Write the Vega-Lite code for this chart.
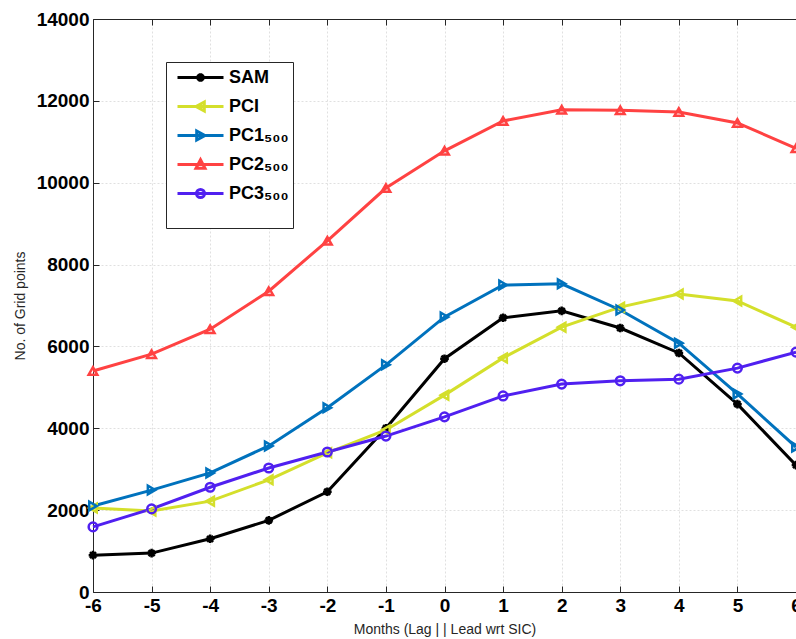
{
  "$schema": "https://vega.github.io/schema/vega-lite/v6.json",
  "width": 703,
  "height": 573,
  "autosize": {"type": "none"},
  "padding": {"left": 93, "top": 19, "right": 0, "bottom": 47},
  "background": "white",
  "config": {"view": {"stroke": null}, "font": "Liberation Sans"},
  "datasets": {
    "rows": [
      {"m": -6, "v": 900, "s": "SAM"}, {"m": -5, "v": 950, "s": "SAM"}, {"m": -4, "v": 1300, "s": "SAM"}, {"m": -3, "v": 1750, "s": "SAM"}, {"m": -2, "v": 2450, "s": "SAM"}, {"m": -1, "v": 4000, "s": "SAM"}, {"m": 0, "v": 5700, "s": "SAM"}, {"m": 1, "v": 6700, "s": "SAM"}, {"m": 2, "v": 6870, "s": "SAM"}, {"m": 3, "v": 6450, "s": "SAM"}, {"m": 4, "v": 5840, "s": "SAM"}, {"m": 5, "v": 4590, "s": "SAM"}, {"m": 6, "v": 3100, "s": "SAM"},
      {"m": -6, "v": 2050, "s": "PCI"}, {"m": -5, "v": 1980, "s": "PCI"}, {"m": -4, "v": 2220, "s": "PCI"}, {"m": -3, "v": 2740, "s": "PCI"}, {"m": -2, "v": 3400, "s": "PCI"}, {"m": -1, "v": 3960, "s": "PCI"}, {"m": 0, "v": 4810, "s": "PCI"}, {"m": 1, "v": 5720, "s": "PCI"}, {"m": 2, "v": 6470, "s": "PCI"}, {"m": 3, "v": 6960, "s": "PCI"}, {"m": 4, "v": 7280, "s": "PCI"}, {"m": 5, "v": 7110, "s": "PCI"}, {"m": 6, "v": 6470, "s": "PCI"},
      {"m": -6, "v": 2100, "s": "PC1₅₀₀"}, {"m": -5, "v": 2490, "s": "PC1₅₀₀"}, {"m": -4, "v": 2910, "s": "PC1₅₀₀"}, {"m": -3, "v": 3570, "s": "PC1₅₀₀"}, {"m": -2, "v": 4500, "s": "PC1₅₀₀"}, {"m": -1, "v": 5550, "s": "PC1₅₀₀"}, {"m": 0, "v": 6720, "s": "PC1₅₀₀"}, {"m": 1, "v": 7500, "s": "PC1₅₀₀"}, {"m": 2, "v": 7530, "s": "PC1₅₀₀"}, {"m": 3, "v": 6890, "s": "PC1₅₀₀"}, {"m": 4, "v": 6080, "s": "PC1₅₀₀"}, {"m": 5, "v": 4840, "s": "PC1₅₀₀"}, {"m": 6, "v": 3540, "s": "PC1₅₀₀"},
      {"m": -6, "v": 5400, "s": "PC2₅₀₀"}, {"m": -5, "v": 5810, "s": "PC2₅₀₀"}, {"m": -4, "v": 6420, "s": "PC2₅₀₀"}, {"m": -3, "v": 7350, "s": "PC2₅₀₀"}, {"m": -2, "v": 8580, "s": "PC2₅₀₀"}, {"m": -1, "v": 9870, "s": "PC2₅₀₀"}, {"m": 0, "v": 10780, "s": "PC2₅₀₀"}, {"m": 1, "v": 11510, "s": "PC2₅₀₀"}, {"m": 2, "v": 11780, "s": "PC2₅₀₀"}, {"m": 3, "v": 11770, "s": "PC2₅₀₀"}, {"m": 4, "v": 11730, "s": "PC2₅₀₀"}, {"m": 5, "v": 11460, "s": "PC2₅₀₀"}, {"m": 6, "v": 10840, "s": "PC2₅₀₀"},
      {"m": -6, "v": 1590, "s": "PC3₅₀₀"}, {"m": -5, "v": 2030, "s": "PC3₅₀₀"}, {"m": -4, "v": 2560, "s": "PC3₅₀₀"}, {"m": -3, "v": 3030, "s": "PC3₅₀₀"}, {"m": -2, "v": 3420, "s": "PC3₅₀₀"}, {"m": -1, "v": 3810, "s": "PC3₅₀₀"}, {"m": 0, "v": 4280, "s": "PC3₅₀₀"}, {"m": 1, "v": 4790, "s": "PC3₅₀₀"}, {"m": 2, "v": 5080, "s": "PC3₅₀₀"}, {"m": 3, "v": 5160, "s": "PC3₅₀₀"}, {"m": 4, "v": 5200, "s": "PC3₅₀₀"}, {"m": 5, "v": 5470, "s": "PC3₅₀₀"}, {"m": 6, "v": 5860, "s": "PC3₅₀₀"}
    ]
  },
  "data": {"name": "rows"},
  "layer": [
    {
      "mark": {"type": "line", "strokeWidth": 3},
      "encoding": {
        "x": {
          "field": "m", "type": "quantitative",
          "scale": {"domain": [-6, 6], "nice": false, "zero": false},
          "axis": {
            "orient": "bottom",
            "values": [-6, -5, -4, -3, -2, -1, 0, 1, 2, 3, 4, 5, 6],
            "labelExpr": "'' + datum.value",
            "title": "Months (Lag | | Lead wrt SIC)",
            "titleFont": "Liberation Sans", "titleFontSize": 14, "titleFontWeight": "normal", "titleColor": "#262626", "titlePadding": 7,
            "labelFont": "Liberation Sans", "labelFontSize": 19, "labelFontWeight": "bold", "labelColor": "black", "labelPadding": 10, "labelFlush": false, "labelOverlap": false,
            "tickSize": -6, "tickColor": "#262626", "domainColor": "#262626",
            "grid": true, "gridColor": "#e0e0e0", "gridDash": [2, 2]
          }
        },
        "y": {
          "field": "v", "type": "quantitative",
          "scale": {"domain": [0, 14000], "nice": false},
          "axis": {
            "values": [0, 2000, 4000, 6000, 8000, 10000, 12000, 14000],
            "format": "d",
            "title": "No. of Grid points",
            "titleFont": "Liberation Sans", "titleFontSize": 14, "titleFontWeight": "normal", "titleColor": "#262626", "titlePadding": 9,
            "labelFont": "Liberation Sans", "labelFontSize": 19, "labelFontWeight": "bold", "labelColor": "black", "labelPadding": 10, "labelFlush": false, "labelOverlap": false,
            "tickSize": -6, "tickColor": "#262626", "domainColor": "#262626",
            "grid": true, "gridColor": "#e0e0e0", "gridDash": [2, 2]
          }
        },
        "color": {
          "field": "s", "type": "nominal",
          "scale": {"domain": ["SAM", "PCI", "PC1₅₀₀", "PC2₅₀₀", "PC3₅₀₀"], "range": ["#000000", "#d4df2b", "#0072bd", "#ff4242", "#5020f0"]},
          "legend": null
        }
      }
    },
    {
      "mark": {"type": "point", "filled": false, "strokeWidth": 2.5, "size": 75, "opacity": 1},
      "encoding": {
        "x": {
          "field": "m", "type": "quantitative",
          "scale": {"domain": [-6, 6], "nice": false, "zero": false},
          "axis": {
            "orient": "top", "values": [-6, -5, -4, -3, -2, -1, 0, 1, 2, 3, 4, 5, 6],
            "labels": false, "title": null, "grid": false,
            "tickSize": -6, "tickColor": "#262626", "domainColor": "#262626"
          }
        },
        "y": {"field": "v", "type": "quantitative", "scale": {"domain": [0, 14000], "nice": false}},
        "color": {
          "field": "s", "type": "nominal",
          "scale": {"domain": ["SAM", "PCI", "PC1₅₀₀", "PC2₅₀₀", "PC3₅₀₀"], "range": ["#000000", "#d4df2b", "#0072bd", "#ff4242", "#5020f0"]},
          "legend": null
        },
        "shape": {
          "field": "s", "type": "nominal",
          "scale": {"domain": ["SAM", "PCI", "PC1₅₀₀", "PC2₅₀₀", "PC3₅₀₀"], "range": ["M-1,0H1M0,-1V1M-0.7,-0.7L0.7,0.7M-0.7,0.7L0.7,-0.7", "triangle-left", "triangle-right", "triangle-up", "circle"]},
          "legend": null
        }
      }
    },
    {
      "transform": [{"filter": "datum.m > 100"}],
      "mark": {"type": "point", "filled": false, "strokeWidth": 3, "opacity": 1},
      "encoding": {
        "x": {"field": "m", "type": "quantitative", "scale": {"domain": [-6, 6], "nice": false, "zero": false}, "axis": null},
        "y": {"field": "v", "type": "quantitative", "scale": {"domain": [0, 14000], "nice": false}},
        "color": {
          "field": "s", "type": "nominal",
          "scale": {"domain": ["SAM", "PCI", "PC1₅₀₀", "PC2₅₀₀", "PC3₅₀₀"], "range": ["#000000", "#d4df2b", "#0072bd", "#ff4242", "#5020f0"]},
          "legend": {
            "title": " ", "titleOrient": "bottom", "titleFontSize": 10, "titlePadding": 10,
            "orient": "none", "legendX": 73, "legendY": 43, "direction": "vertical",
            "fillColor": "white", "strokeColor": "#262626", "padding": 4,
            "symbolSize": 400, "symbolStrokeWidth": 3, "symbolOffset": 19, "labelOffset": 17, "rowPadding": 7,
            "labelFont": "Liberation Sans", "labelFontSize": 18, "labelFontWeight": "bold", "labelColor": "black", "labelLimit": 300
          }
        },
        "shape": {
          "field": "s", "type": "nominal",
          "scale": {"domain": ["SAM", "PCI", "PC1₅₀₀", "PC2₅₀₀", "PC3₅₀₀"], "range": ["M-2.3,0H2.3M-0.42,0H0.42M0,-0.42V0.42M-0.3,-0.3L0.3,0.3M-0.3,0.3L0.3,-0.3", "M-2.3,0H2.3M-0.45,0L0.38,-0.45L0.38,0.45Z", "M-2.3,0H2.3M0.45,0L-0.38,-0.45L-0.38,0.45Z", "M-2.3,0H2.3M0,-0.48L0.45,0.38L-0.45,0.38Z", "M-2.3,0H2.3M0.4,0A0.4,0.4,0,1,1,-0.4,0A0.4,0.4,0,1,1,0.4,0"]},
          "legend": {
            "title": " ", "titleOrient": "bottom", "titleFontSize": 10, "titlePadding": 10,
            "orient": "none", "legendX": 73, "legendY": 43, "direction": "vertical",
            "fillColor": "white", "strokeColor": "#262626", "padding": 4,
            "symbolSize": 400, "symbolStrokeWidth": 3, "symbolOffset": 19, "labelOffset": 17, "rowPadding": 7,
            "labelFont": "Liberation Sans", "labelFontSize": 18, "labelFontWeight": "bold", "labelColor": "black", "labelLimit": 300
          }
        }
      }
    }
  ],
  "resolve": {"axis": {"x": "independent"}, "scale": {"shape": "independent", "color": "independent"}}
}
